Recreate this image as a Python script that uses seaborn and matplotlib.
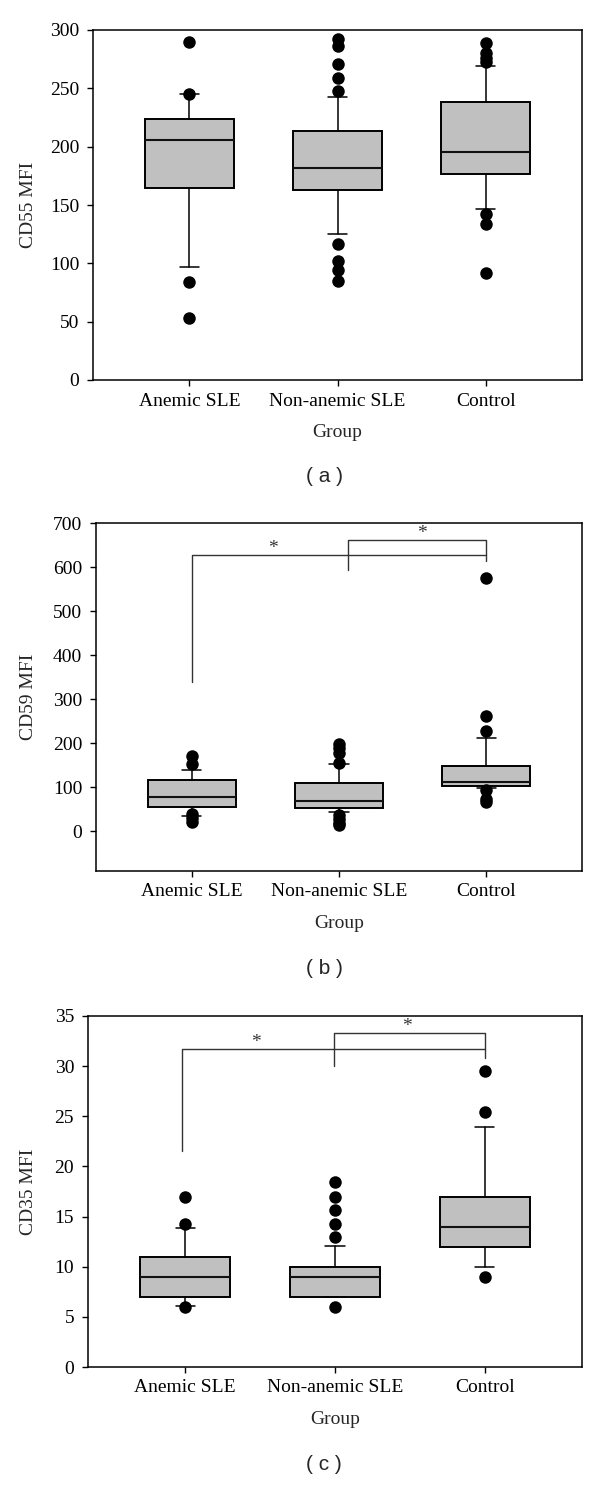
import matplotlib
matplotlib.use("Agg")
import pandas as pd
import matplotlib.pyplot as plt
import seaborn as sns

sns.set_style("ticks")
plt.rcParams['font.family'] = ['Liberation Serif', 'DejaVu Serif']

groups = ['Anemic SLE', 'Non-anemic SLE', 'Control']

# (a) CD55 MFI box summaries
cd55_whislo = [97, 125, 147]
cd55_q1 = [165, 163, 177]
cd55_med = [206, 182, 195]
cd55_q3 = [224, 213, 238]
cd55_whishi = [245, 243, 269]
cd55_out = [[290, 245, 84, 53],
            [292, 286, 271, 259, 248, 117, 102, 94, 85],
            [289, 280, 276, 273, 142, 134, 92]]

# (b) CD59 MFI box summaries
cd59_whislo = [35, 44, 99]
cd59_q1 = [55, 52, 102]
cd59_med = [77, 70, 112]
cd59_q3 = [117, 110, 148]
cd59_whishi = [140, 154, 212]
cd59_out = [[171, 153, 40, 30, 22],
            [198, 190, 178, 155, 38, 28, 20, 14],
            [576, 261, 228, 93, 74, 67]]

# (c) CD35 MFI box summaries
cd35_whislo = [6.05, 7, 10]
cd35_q1 = [7, 7, 12]
cd35_med = [9, 9, 14]
cd35_q3 = [11, 10, 17]
cd35_whishi = [13.9, 12.1, 23.9]
cd35_out = [[17, 14.25, 6],
            [18.4, 17, 15.65, 14.3, 13, 6],
            [29.5, 25.4, 9]]

H = 1488.0
W = 600.0


def draw_panel(fig, rect_px, whislo, q1, med, q3, whishi, outliers,
               ylabel, ylim, yticks, letter, brackets=(), stars=()):
    left, top, width, height = rect_px
    ax = fig.add_axes([left / W, 1 - (top + height) / H, width / W, height / H])

    df = pd.DataFrame([(groups[i], v) for i in range(3) for v in outliers[i]],
                      columns=['Group', 'value'])
    sns.stripplot(data=df, x='Group', y='value', order=groups, jitter=False,
                  color='black', size=9, linewidth=0, ax=ax, zorder=4)

    stats = [dict(whislo=whislo[i], q1=q1[i], med=med[i], q3=q3[i],
                  whishi=whishi[i], fliers=[]) for i in range(3)]
    ax.bxp(stats, positions=[0, 1, 2], widths=0.6, capwidths=0.13,
           showfliers=False, patch_artist=True, manage_ticks=False,
           boxprops=dict(facecolor='#c0c0c0', edgecolor='black', linewidth=1.4),
           medianprops=dict(color='#111111', linewidth=1.5),
           whiskerprops=dict(color='black', linewidth=1.1),
           capprops=dict(color='black', linewidth=1.1))

    for xs, ys in brackets:
        ax.plot(xs, ys, color='#333333', linewidth=1.0, zorder=3)
    for sx, sy in stars:
        ax.text(sx, sy, '*', ha='center', va='center', fontsize=14, color='#333333')

    ax.set_xlim(-0.65, 2.65)
    ax.set_ylim(*ylim)
    ax.set_yticks(yticks)
    ax.set_xticks([0, 1, 2])
    ax.set_xticklabels(groups)
    for s in ax.spines.values():
        s.set_visible(True)
        s.set_linewidth(1.1)
        s.set_color('black')
    ax.tick_params(direction='out', length=4, width=1, labelsize=14,
                   top=False, right=False, colors='black')
    ax.tick_params(axis='y', pad=6)
    ax.tick_params(axis='x', pad=5)

    ax.set_xlabel('Group', fontsize=14)
    ax.set_ylabel(ylabel, fontsize=14)
    ax.xaxis.set_label_coords(0.5, -44 / height)
    ax.yaxis.set_label_coords((37 - left) / width, 0.5)

    fig.text(324 / W, 1 - (top + height + 97) / H, '( %s )' % letter,
             ha='center', va='center', fontsize=15, family='Liberation Sans')
    return ax


fig = plt.figure(figsize=(6, 14.88), dpi=100)

draw_panel(fig, (93, 30, 489, 350), cd55_whislo, cd55_q1, cd55_med, cd55_q3,
           cd55_whishi, cd55_out, 'CD55 MFI', (0, 300), range(0, 301, 50), 'a')

draw_panel(fig, (96, 523, 486, 348), cd59_whislo, cd59_q1, cd59_med, cd59_q3,
           cd59_whishi, cd59_out, 'CD59 MFI', (-90, 700), range(0, 701, 100), 'b',
           brackets=[([0, 0, 2, 2], [340, 627, 627, 614]),
                     ([1.06, 1.06, 2, 2], [593, 661, 661, 627])],
           stars=[(0.55, 643), (1.56, 677)])

draw_panel(fig, (88, 1016, 494, 351), cd35_whislo, cd35_q1, cd35_med, cd35_q3,
           cd35_whishi, cd35_out, 'CD35 MFI', (0, 35), range(0, 36, 5), 'c',
           brackets=[([-0.02, -0.02, 2, 2], [21.5, 31.7, 31.7, 30.8]),
                     ([0.99, 0.99, 2, 2], [30.0, 33.35, 33.35, 31.7])],
           stars=[(0.47, 32.4), (1.48, 34.0)])

fig.savefig('out.png', dpi=100, facecolor='white')
